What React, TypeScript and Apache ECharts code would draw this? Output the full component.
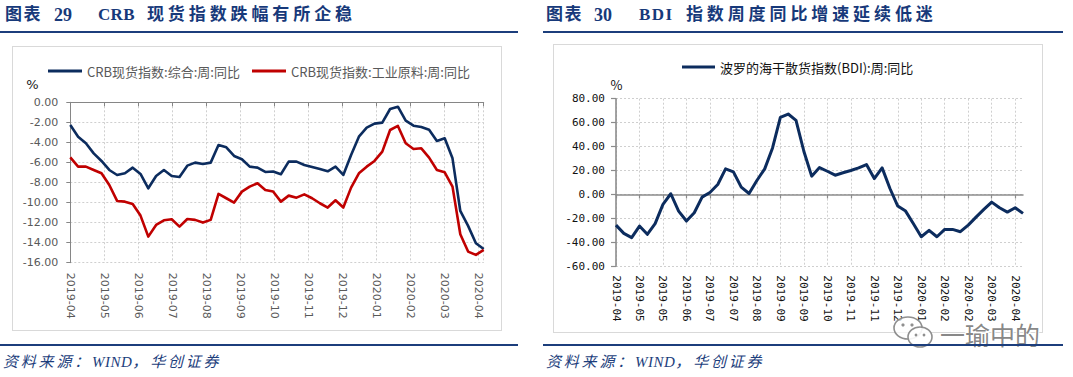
import React, { useEffect, useRef } from "react";
import * as echarts from "echarts";

// ---------- DATA ----------
const crbDates = [
  "2019-04-05","2019-04-12","2019-04-19","2019-04-26","2019-05-03","2019-05-10","2019-05-17","2019-05-24","2019-05-31",
  "2019-06-07","2019-06-14","2019-06-21","2019-06-28","2019-07-05","2019-07-12","2019-07-19","2019-07-26",
  "2019-08-02","2019-08-09","2019-08-16","2019-08-23","2019-08-30","2019-09-06","2019-09-13","2019-09-20","2019-09-27",
  "2019-10-04","2019-10-11","2019-10-18","2019-10-25","2019-11-01","2019-11-08","2019-11-15","2019-11-22","2019-11-29",
  "2019-12-06","2019-12-13","2019-12-20","2019-12-27","2020-01-03","2020-01-10","2020-01-17","2020-01-24","2020-01-31",
  "2020-02-07","2020-02-14","2020-02-21","2020-02-28","2020-03-06","2020-03-13","2020-03-20","2020-03-27","2020-04-03","2020-04-10"
];
const crbComposite = [
  -2.26,-3.43,-4.09,-5.09,-5.85,-6.75,-7.25,-7.08,-6.52,-7.15,-8.58,-7.35,-6.75,-7.35,-7.45,-6.32,-6.02,-6.15,-6.02,
  -4.26,-4.49,-5.35,-5.68,-6.42,-6.52,-6.95,-6.9,-7.18,-5.92,-5.92,-6.25,-6.45,-6.65,-6.88,-6.42,-7.25,-5.25,-3.43,
  -2.53,-2.13,-2.03,-0.67,-0.44,-1.83,-2.33,-2.46,-2.73,-3.86,-3.59,-5.59,-10.84,-12.33,-14.06,-14.63
];
const crbIndustrial = [
  -5.49,-6.42,-6.42,-6.75,-7.08,-8.25,-9.84,-9.91,-10.14,-11.3,-13.4,-12.23,-11.77,-11.67,-12.4,-11.64,-11.73,-12.0,-11.73,
  -9.14,-9.57,-10.0,-8.91,-8.41,-8.08,-8.74,-8.9,-9.91,-9.31,-9.51,-9.18,-9.57,-10.07,-10.5,-9.77,-10.5,-8.51,-7.08,
  -6.42,-5.85,-4.92,-2.76,-2.36,-4.09,-4.66,-4.59,-5.52,-6.75,-6.98,-8.41,-13.16,-14.89,-15.22,-14.73
];
const crbNames = ["CRB现货指数:综合:周:同比", "CRB现货指数:工业原料:周:同比"];
const crbYRange = [-16, 0, 2];

const bdiDates = [
  "2019-04-12","2019-04-19","2019-04-26","2019-05-03","2019-05-10","2019-05-17","2019-05-24","2019-05-31",
  "2019-06-07","2019-06-14","2019-06-21","2019-06-28","2019-07-05","2019-07-12","2019-07-19","2019-07-26",
  "2019-08-02","2019-08-09","2019-08-16","2019-08-23","2019-08-30","2019-09-06","2019-09-13","2019-09-20","2019-09-27",
  "2019-10-04","2019-10-11","2019-10-18","2019-10-25","2019-11-01","2019-11-08","2019-11-15","2019-11-22","2019-11-29",
  "2019-12-06","2019-12-13","2019-12-20","2019-12-27","2020-01-03","2020-01-10","2020-01-17","2020-01-31",
  "2020-02-07","2020-02-14","2020-02-21","2020-02-28","2020-03-06","2020-03-13","2020-03-20","2020-03-27",
  "2020-04-03","2020-04-10","2020-04-17"
];
const bdiValues = [
  -25.6,-32.5,-36.1,-26.4,-33.3,-24.4,-8.3,0.6,-13.9,-22.2,-15.3,-2.2,1.7,8.3,21.4,18.9,6.1,0.8,11.7,21.4,38.9,
  64.4,67.2,61.9,36.1,15.3,22.5,19.4,16.1,18.1,20.0,22.2,25.0,13.3,22.2,5.0,-9.7,-13.9,-24.4,-35.3,-30.0,-35.3,
  -29.2,-29.2,-31.1,-25.6,-18.9,-12.5,-6.4,-11.1,-14.7,-11.1,-15.8
];
const bdiName = "波罗的海干散货指数(BDI):周:同比";
const bdiYRange = [-60, 80, 20];

// ---------- STYLE CONSTANTS ----------
const NAVY = "#0c2c5e";
const RED = "#c00000";
const AXIS_GREY = "#868686";
const GRID_DOT = { color: "#cfcfcf", width: 1, type: [2, 2] as any };
const CJK = "'Noto Sans CJK SC', sans-serif";
const TITLE_BLUE = "#17397a";
const RULE_BLUE = "#1c3e7c";

const DAY = 86400000;
const crbBase = Date.parse(crbDates[0]);
const dayOffset = (d: string) => (Date.parse(d) - crbBase) / DAY;
const crbMaxDay = dayOffset(crbDates[crbDates.length - 1]);
const monthLabel = (v: number) => {
  if (v > 367) return "";
  const d = new Date(crbBase + v * DAY);
  return d.getUTCFullYear() + "-" + String(d.getUTCMonth() + 1).padStart(2, "0");
};

export default function App() {
  const ref = useRef<HTMLDivElement>(null);

  useEffect(() => {
    if (!ref.current) return;
    const chart = echarts.init(ref.current, undefined, { renderer: "svg" });

    const legendBase = {
      padding: 0,
      icon: "rect",
      itemHeight: 3,
      itemGap: 0,
      selectedMode: false,
      orient: "horizontal",
    };

    const option: any = {
      animation: false,
      backgroundColor: "transparent",
      grid: [
        { left: 70.3, top: 102.3, width: 413.4, height: 160.4, outerBoundsMode: "none", containLabel: false },
        { left: 616, top: 98.7, width: 407, height: 167.6, outerBoundsMode: "none", containLabel: false },
      ],
      legend: [
        {
          ...legendBase, data: [crbNames[0]], left: 48, top: 64, itemWidth: 34,
          textStyle: { fontSize: 13, color: "#595959", fontFamily: CJK, lineHeight: 14 },
        },
        {
          ...legendBase, data: [crbNames[1]], left: 252, top: 64, itemWidth: 34,
          textStyle: { fontSize: 13, color: "#595959", fontFamily: CJK, lineHeight: 14 },
        },
        {
          ...legendBase, data: [bdiName], left: 682, top: 60, itemWidth: 33,
          textStyle: { fontSize: 13, color: "#111", fontFamily: CJK, lineHeight: 14 },
        },
      ],
      xAxis: [
        {
          gridIndex: 0, type: "value", position: "bottom", min: 0, max: crbMaxDay, interval: 30.5,
          axisLine: { show: false, onZero: false }, axisTick: { show: false }, splitLine: { show: false },
          axisLabel: {
            show: true, rotate: -90, margin: 10, fontSize: 11, color: "#595959",
            fontFamily: "'DejaVu Sans', sans-serif", formatter: monthLabel,
          },
        },
        {
          gridIndex: 0, type: "value", position: "top", min: 0, max: crbMaxDay, interval: 30.5,
          axisLine: { show: true, onZero: false, lineStyle: { color: AXIS_GREY, width: 1 } },
          axisTick: { show: true, inside: true, length: 4, lineStyle: { color: AXIS_GREY } },
          axisLabel: { show: false },
          splitLine: { show: true, lineStyle: GRID_DOT },
        },
        {
          gridIndex: 1, type: "category", data: bdiDates, boundaryGap: false, position: "bottom",
          axisLine: { show: false, onZero: false }, axisTick: { show: false }, splitLine: { show: false },
          axisLabel: {
            show: true, interval: 2, rotate: -90, margin: 9, fontSize: 11, color: "#111",
            fontFamily: "'DejaVu Sans Mono', monospace", formatter: (v: string) => v.slice(0, 7),
          },
        },
        {
          gridIndex: 1, type: "category", data: bdiDates, boundaryGap: false, position: "top",
          axisLine: { show: true, onZero: true, lineStyle: { color: "#8c8c8c", width: 1.5 } },
          axisTick: { show: true, inside: true, interval: 2, length: 4, lineStyle: { color: "#8c8c8c", width: 1.2 } },
          axisLabel: { show: false },
          splitLine: { show: true, interval: 2, lineStyle: GRID_DOT },
        },
      ],
      yAxis: [
        {
          gridIndex: 0, type: "value", min: crbYRange[0], max: crbYRange[1], interval: crbYRange[2],
          axisLine: { show: true, lineStyle: { color: AXIS_GREY, width: 1 } },
          axisTick: { show: true, length: 4, lineStyle: { color: AXIS_GREY } },
          axisLabel: {
            margin: 12, fontSize: 11, color: "#595959", fontFamily: "'DejaVu Sans', sans-serif",
            formatter: (v: number) => v.toFixed(2),
          },
          splitLine: { show: true, lineStyle: GRID_DOT },
        },
        {
          gridIndex: 1, type: "value", min: bdiYRange[0], max: bdiYRange[1], interval: bdiYRange[2],
          axisLine: { show: true, lineStyle: { color: "#8c8c8c", width: 1.6 } },
          axisTick: { show: true, length: 5, lineStyle: { color: "#8c8c8c", width: 1.2 } },
          axisLabel: {
            margin: 11, fontSize: 11, color: "#111", fontFamily: "'DejaVu Sans Mono', monospace",
            formatter: (v: number) => v.toFixed(2),
          },
          splitLine: { show: true, lineStyle: GRID_DOT },
        },
      ],
      series: [
        {
          name: crbNames[0], type: "line", xAxisIndex: 0, yAxisIndex: 0, symbol: "none",
          data: crbDates.map((d, i) => [dayOffset(d), crbComposite[i]]),
          lineStyle: { color: NAVY, width: 2.6, join: "round" }, itemStyle: { color: NAVY },
        },
        {
          name: crbNames[1], type: "line", xAxisIndex: 0, yAxisIndex: 0, symbol: "none",
          data: crbDates.map((d, i) => [dayOffset(d), crbIndustrial[i]]),
          lineStyle: { color: RED, width: 2.6, join: "round" }, itemStyle: { color: RED },
        },
        {
          name: bdiName, type: "line", xAxisIndex: 2, yAxisIndex: 1, symbol: "none",
          data: bdiValues,
          lineStyle: { color: NAVY, width: 3, join: "round" }, itemStyle: { color: NAVY },
        },
      ],
      graphic: [
        {
          type: "text", x: 32.5, y: 84,
          style: { text: "%", fill: "#222", fontSize: 13, fontFamily: "'DejaVu Sans', sans-serif",
            align: "center", verticalAlign: "middle", textAlign: "center", textVerticalAlign: "middle" },
        },
        {
          type: "text", x: 616.5, y: 84,
          style: { text: "%", fill: "#111", fontSize: 13, fontFamily: CJK,
            align: "center", verticalAlign: "middle", textAlign: "center", textVerticalAlign: "middle" },
        },
        {
          type: "ellipse", shape: { cx: 908, cy: 328, rx: 14, ry: 11 },
          style: { fill: "rgba(255,255,255,0.7)", stroke: "#8f8f8f", lineWidth: 1.6 }, z: 100,
        },
        { type: "circle", shape: { cx: 903, cy: 325, r: 1.6 }, style: { fill: "#8f8f8f" }, z: 100 },
        { type: "circle", shape: { cx: 912, cy: 325, r: 1.6 }, style: { fill: "#8f8f8f" }, z: 100 },
        {
          type: "ellipse", shape: { cx: 920, cy: 337, rx: 12, ry: 10 },
          style: { fill: "rgba(255,255,255,0.9)", stroke: "#8f8f8f", lineWidth: 1.6 }, z: 101,
        },
        { type: "circle", shape: { cx: 916, cy: 335, r: 1.4 }, style: { fill: "#8f8f8f" }, z: 101 },
        { type: "circle", shape: { cx: 924, cy: 335, r: 1.4 }, style: { fill: "#8f8f8f" }, z: 101 },
        {
          type: "text", x: 940, y: 334, z: 101,
          style: { text: "一瑜中的", fill: "rgba(120,120,120,0.9)", stroke: "#ffffff", lineWidth: 2,
            fontSize: 25, fontFamily: CJK, align: "left", verticalAlign: "middle",
            textAlign: "left", textVerticalAlign: "middle" },
        },
      ],
    };

    chart.setOption(option);
    return () => chart.dispose();
  }, []);

  const abs = (s: React.CSSProperties): React.CSSProperties => ({ position: "absolute", ...s });
  const titleBase: React.CSSProperties = {
    position: "absolute", top: 4, lineHeight: "22px", fontWeight: "bold", color: TITLE_BLUE,
    whiteSpace: "nowrap", fontFamily: "'Liberation Serif', 'Noto Sans CJK SC', serif",
  };
  const sourceBase: React.CSSProperties = {
    position: "absolute", top: 353, lineHeight: "18px", fontStyle: "italic", color: RULE_BLUE,
    whiteSpace: "nowrap", fontFamily: "'Liberation Serif', 'Noto Sans CJK SC', serif",
    fontSize: 15, letterSpacing: "2.8px",
  };
  const tight: React.CSSProperties = { letterSpacing: "0.3px" };
  const wide: React.CSSProperties = { letterSpacing: "3.9px", marginLeft: 4 };

  return (
    <div style={{ position: "absolute", left: 0, top: 0, width: 1073, height: 377, background: "#fff", overflow: "hidden" }}>
      <div style={abs({ left: 12, top: 46, width: 490, height: 285, border: "1px solid #d9d9d9", boxSizing: "border-box" })} />
      <div style={abs({ left: 553, top: 44, width: 490, height: 289, border: "1px solid #d9d9d9", boxSizing: "border-box" })} />

      <div ref={ref} style={abs({ left: 0, top: 0, width: 1073, height: 377 })} />

      <span style={{ ...titleBase, left: 5, fontSize: 17, letterSpacing: "1.5px" }}>图表</span>
      <span style={{ ...titleBase, left: 54, fontSize: 18 }}>29</span>
      <span style={{ ...titleBase, left: 98, fontSize: 17 }}>
        <span style={tight}>CRB</span><span style={wide}> 现货指数跌幅有所企稳</span>
      </span>
      <span style={{ ...titleBase, left: 546, fontSize: 17, letterSpacing: "1.5px" }}>图表</span>
      <span style={{ ...titleBase, left: 594, fontSize: 18 }}>30</span>
      <span style={{ ...titleBase, left: 639, fontSize: 17 }}>
        <span style={{ letterSpacing: "1.5px" }}>BDI</span><span style={wide}> 指数周度同比增速延续低迷</span>
      </span>

      <div style={abs({ left: 0, top: 31, width: 518, height: 2, background: RULE_BLUE })} />
      <div style={abs({ left: 543, top: 31, width: 520, height: 2, background: RULE_BLUE })} />
      <div style={abs({ left: 0, top: 344, width: 518, height: 2, background: RULE_BLUE })} />
      <div style={abs({ left: 543, top: 344, width: 520, height: 2, background: RULE_BLUE })} />

      <span style={{ ...sourceBase, left: 3 }}>
        资料来源：<span style={{ letterSpacing: "0.5px" }}>WIND</span>，华创证券
      </span>
      <span style={{ ...sourceBase, left: 546 }}>
        资料来源：<span style={{ letterSpacing: "0.5px" }}>WIND</span>，华创证券
      </span>
    </div>
  );
}
